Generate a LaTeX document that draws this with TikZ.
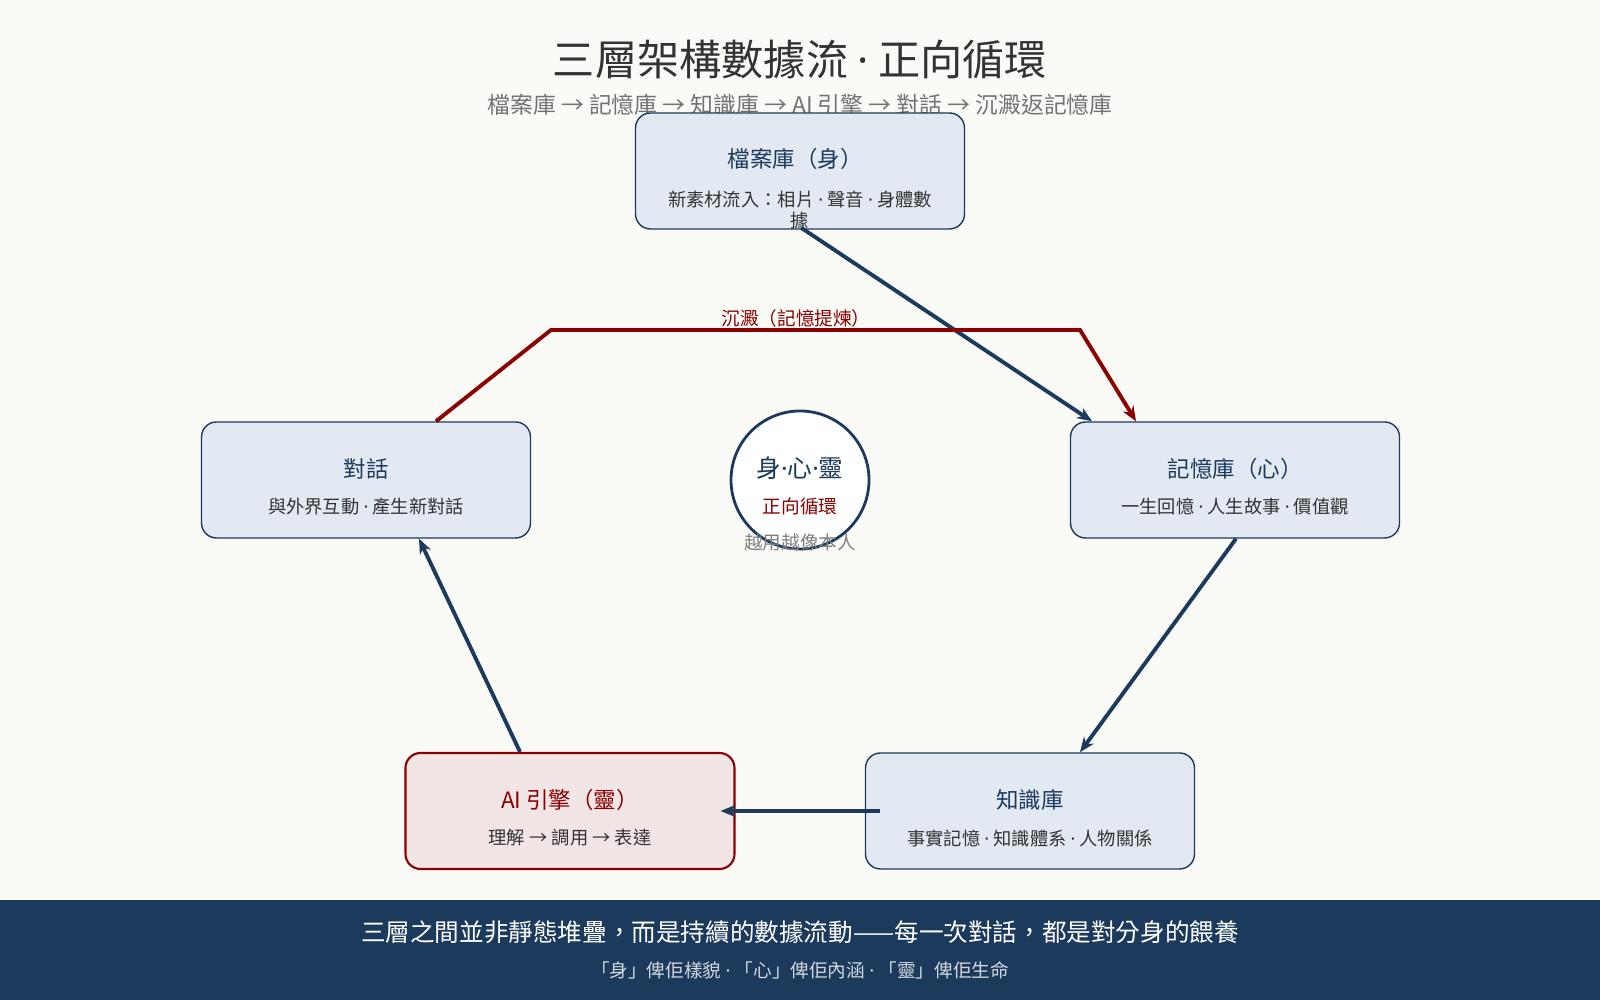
\documentclass[tikz,border=0pt]{standalone}
\usepackage{fontspec}
\setmainfont{Noto Sans CJK TC}
\newfontfamily\latinfont{Noto Sans}
\newcommand{\md}{{\latinfont ·}}
\usetikzlibrary{positioning,arrows.meta}
\definecolor{navy}{HTML}{1B3A5C}
\definecolor{darkred}{HTML}{8B0000}
\definecolor{paper}{HTML}{FAFAF7}
\definecolor{boxblue}{HTML}{E3E9F2}
\definecolor{boxred}{HTML}{F2E5E6}
\tikzset{
  layer/.style={draw=navy, fill=boxblue, line width=0.4pt, rounded corners=0.15cm, minimum width=3.29cm, minimum height=1.16cm},
  core/.style={layer, draw=darkred, fill=boxred, line width=0.6pt},
  head/.style={font=\fontsize{6.4}{7}\selectfont, text=navy},
  sub/.style={font=\fontsize{5.2}{6}\selectfont, text=black!80},
  flow/.style={draw=navy, line width=1.1pt, -{Stealth[length=0.15cm,width=0.12cm]}},
  settle/.style={draw=darkred, line width=1.1pt, -{Stealth[length=0.15cm,width=0.12cm]}}
}
\begin{document}
\begin{tikzpicture}
\fill[paper] (0,0) rectangle (16,10);
\fill[navy] (0,0) rectangle (16,1);
% title
\node (title) at (8,9.41) {\fontsize{12}{14}\selectfont\color{black!80}三層架構數據流 \md{} 正向循環};
\node (subtitle) at (8,8.95) {\fontsize{6.5}{7}\selectfont\color{black!55}檔案庫 → 記憶庫 → 知識庫 → AI 引擎 → 對話 → 沉澱返記憶庫};
% layers
\node[layer] (archive) at (8.00,8.29) {};
\node[head] at (7.95,8.41) {檔案庫（身）};
\node[sub, align=center] at (8.00,7.90) {新素材流入：相片 \md{} 聲音 \md{} 身體數\\據};
\node[layer] (memory) at (12.35,5.20) {};
\node[head] at (12.35,5.31) {記憶庫（心）};
\node[sub] at (12.35,4.93) {一生回憶 \md{} 人生故事 \md{} 價值觀};
\node[layer] (knowledge) at (10.30,1.89) {};
\node[head] at (10.30,2.00) {知識庫};
\node[sub] at (10.30,1.62) {事實記憶 \md{} 知識體系 \md{} 人物關係};
\node[core] (engine) at (5.70,1.89) {};
\node[head, text=darkred] at (5.70,2.00) {AI 引擎（靈）};
\node[sub] at (5.70,1.62) {理解 → 調用 → 表達};
\node[layer] (dialogue) at (3.66,5.20) {};
\node[head] at (3.66,5.31) {對話};
\node[sub] at (3.66,4.93) {與外界互動 \md{} 產生新對話};
% centre
\node[circle, draw=navy, fill=white, line width=0.8pt, minimum size=1.38cm] (hub) at (8,5.20) {};
\node[font=\fontsize{7}{8}\selectfont, text=navy] at (8,5.32) {身\md 心\md 靈};
\node[font=\fontsize{5.3}{6}\selectfont, text=darkred] at (8,4.94) {正向循環};
\node[font=\fontsize{5.3}{6}\selectfont, text=black!50] at (8,4.58) {越用越像本人};
% flows
\draw[flow] (archive.south) ++(0.01,0.02) -- ([xshift=-1.43cm]memory.north);
\draw[flow] ([xshift=0.01cm]memory.south) -- ([xshift=0.5cm]knowledge.north);
\draw[flow] ([xshift=0.15cm]knowledge.west) -- ([xshift=-0.15cm]engine.east);
\draw[flow] ([xshift=-0.5cm]engine.north) -- ([xshift=0.53cm]dialogue.south);
\draw[settle] ([xshift=0.7cm]dialogue.north) -- (5.51,6.70) -- (10.80,6.70) -- ([xshift=-0.99cm]memory.north);
\node[font=\fontsize{5.3}{6}\selectfont, text=darkred] (settlelabel) at (7.96,6.82) {沉澱（記憶提煉）};
% footer
\node[text=white] (footmain) at (8,0.68) {\fontsize{7}{8}\selectfont 三層之間並非靜態堆疊，而是持續的數據流動——每一次對話，都是對分身的餵養};
\node[text=white!80!navy] (footsub) at (8,0.30) {\fontsize{5.3}{6}\selectfont 「身」俾佢樣貌 \md{} 「心」俾佢內涵 \md{} 「靈」俾佢生命};
\end{tikzpicture}
\end{document}
